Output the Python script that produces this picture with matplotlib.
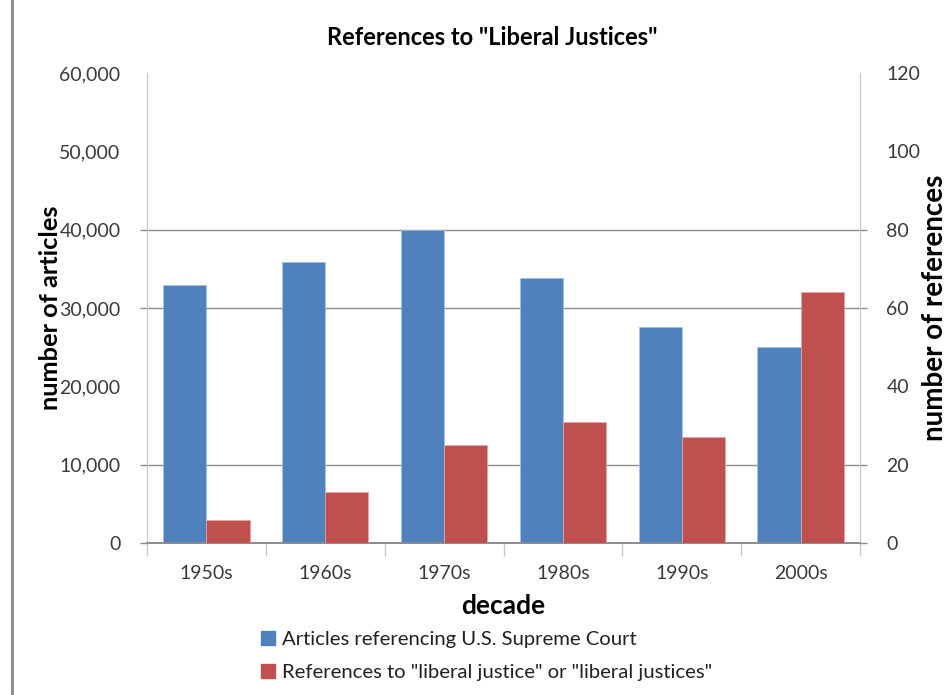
import matplotlib.pyplot as plt
import numpy as np
from matplotlib.lines import Line2D

plt.rcParams['font.family'] = ['Lato', 'DejaVu Sans']

decades = ['1950s', '1960s', '1970s', '1980s', '1990s', '2000s']
articles = [32900, 35900, 40000, 33800, 27600, 25000]
references = [6, 13, 25, 31, 27, 64]

left_ticks = [0, 10000, 20000, 30000, 40000, 50000, 60000]
right_ticks = [0, 20, 40, 60, 80, 100, 120]
# only some of the gridlines survive in the chart
left_grid = [0, 10000, 30000, 40000]
right_grid = [0, 20, 60, 80]

blue = '#4F81BD'
red = '#C0504D'
grid_col = '#8c8c8c'
spine_col = '#c8c8c8'
txt_col = '#3a3a3a'

fig = plt.figure(figsize=(9.5, 6.95), dpi=100)
ax = fig.add_axes([147 / 950, 1 - 543 / 695, (860 - 147) / 950, (543 - 73) / 695])
ax2 = ax.twinx()

x = np.arange(len(decades))
w = 1 / 2.75
ax.bar(x - w / 2, articles, width=w, color=blue, edgecolor='#a9c1e0', linewidth=0.5, zorder=3)
ax2.bar(x + w / 2, references, width=w, color=red, edgecolor='#e0a9a8', linewidth=0.5, zorder=3)

ax.set_xlim(-0.5, len(decades) - 0.5)
ax.set_ylim(0, 60000)
ax2.set_ylim(0, 120)

# keep minor ticks even where they sit on a major tick
ax.yaxis.remove_overlapping_locs = False
ax2.yaxis.remove_overlapping_locs = False

# y tick labels without marks, short marks only where gridlines are
ax.set_yticks(left_ticks)
ax.set_yticklabels([f'{v:,}' for v in left_ticks])
ax.tick_params(axis='y', which='major', length=0, pad=19, labelsize=14, colors=txt_col)
ax.set_yticks(left_grid, minor=True)
ax.tick_params(axis='y', which='minor', length=5, width=1, color=grid_col)
ax.yaxis.grid(True, which='minor', color=grid_col, linewidth=1)

ax2.set_yticks(right_ticks)
ax2.tick_params(axis='y', which='major', length=0, pad=19, labelsize=14, colors=txt_col)
ax2.set_yticks(right_grid, minor=True)
ax2.tick_params(axis='y', which='minor', length=5, width=1, color=grid_col)

ax.set_xticks(x)
ax.set_xticklabels(decades)
ax.tick_params(axis='x', which='major', length=0, pad=16, labelsize=14, colors=txt_col)
ax.set_xticks(np.arange(-0.5, len(decades)), minor=True)
ax.tick_params(axis='x', which='minor', length=9, width=1, color=spine_col)
ax.set_axisbelow(True)

for a in (ax, ax2):
    a.spines['top'].set_visible(False)
    a.spines['left'].set_color(spine_col)
    a.spines['right'].set_color(spine_col)
    a.spines['bottom'].set_color(grid_col)
    a.spines['bottom'].set_linewidth(1.2)

ax.set_title('References to "Liberal Justices"', fontsize=17, fontweight='bold', pad=20,
             x=0.484)
ax.set_xlabel('decade', fontsize=19, fontweight='bold')
ax.xaxis.set_label_coords(0.5, -0.108)
ax.set_ylabel('number of articles', fontsize=18.3, fontweight='bold')
ax.yaxis.set_label_coords(-0.119, 0.5)
ax2.set_ylabel('number of references', fontsize=20, fontweight='bold')
ax2.yaxis.set_label_coords(1.087, 0.5)

handles = [plt.Rectangle((0, 0), 1, 1, color=blue), plt.Rectangle((0, 0), 1, 1, color=red)]
fig.legend(handles, ['Articles referencing U.S. Supreme Court',
                     'References to "liberal justice" or "liberal justices"'],
           loc='upper left', bbox_to_anchor=(251 / 950, 1 - 621 / 695), frameon=False,
           fontsize=14.6, handlelength=0.7, handleheight=0.7, handletextpad=0.35,
           labelspacing=0.78, borderpad=0, labelcolor='#222222')

# gray frame edge on the left side
fig.add_artist(Line2D([12 / 950, 12 / 950], [0, 1], color='#8a8a8a', linewidth=2,
                      transform=fig.transFigure))

fig.savefig('out.png', dpi=100)
